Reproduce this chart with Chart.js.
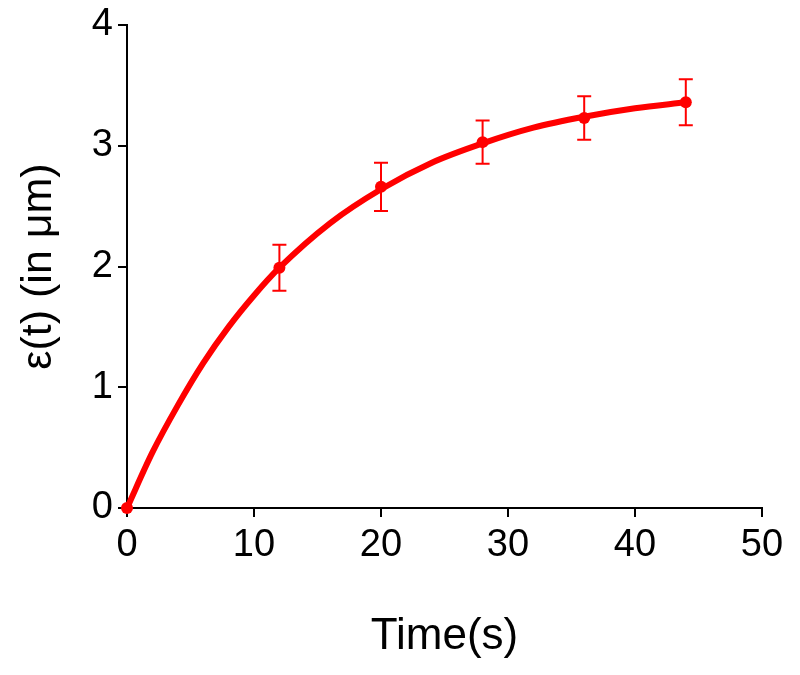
<!DOCTYPE html>
<html lang="en">
<head>
    <meta charset="UTF-8">
    <title>Strain vs time</title>
    <script src="https://cdn.jsdelivr.net/npm/chart.js"></script>
    <style>
        html, body { margin: 0; padding: 0; background: #fff; }
        #wrap { width: 800px; height: 675px; }
    </style>
</head>
<body>
    <div id="wrap"><canvas id="strainChart" width="800" height="675"></canvas></div>

    <script>
        // measured points (mean +/- error)
        const timeS = [0, 12, 20, 28, 36, 44];
        const strainMean = [0, 1.99, 2.66, 3.03, 3.23, 3.36];
        const strainErr = [0, 0.19, 0.20, 0.18, 0.18, 0.19];

        // fitted curve
        const fitTime = [0, 2, 4, 6, 8, 10, 12, 16, 20, 24, 28, 32, 36, 40, 44];
        const fitStrain = [0, 0.46, 0.85, 1.20, 1.50, 1.76, 1.99, 2.36, 2.64, 2.86, 3.02, 3.15, 3.24, 3.31, 3.36];

        const xTicks = [0, 10, 20, 30, 40, 50];
        const yTicks = [0, 1, 2, 3, 4];

        const RED = 'rgb(255, 0, 0)';
        const FONT = "'Liberation Sans', Arial, Helvetica, sans-serif";

        // draws vertical error bars with caps using the chart scales
        const errorBars = {
            id: 'errorBars',
            afterDatasetsDraw(chart) {
                const ctx = chart.ctx;
                const xs = chart.scales.x, ys = chart.scales.y;
                ctx.save();
                ctx.strokeStyle = RED;
                ctx.lineWidth = 2;
                timeS.forEach((t, i) => {
                    if (!strainErr[i]) return;
                    const px = xs.getPixelForValue(t);
                    const top = ys.getPixelForValue(strainMean[i] + strainErr[i]);
                    const bot = ys.getPixelForValue(strainMean[i] - strainErr[i]);
                    ctx.beginPath();
                    ctx.moveTo(px, top); ctx.lineTo(px, bot);
                    ctx.moveTo(px - 7, top); ctx.lineTo(px + 7, top);
                    ctx.moveTo(px - 7, bot); ctx.lineTo(px + 7, bot);
                    ctx.stroke();
                });
                ctx.restore();
            }
        };

        const ctx = document.getElementById('strainChart').getContext('2d');
        new Chart(ctx, {
            type: 'line',
            data: {
                datasets: [
                    {
                        label: 'fit',
                        data: fitTime.map((t, i) => ({ x: t, y: fitStrain[i] })),
                        borderColor: RED,
                        borderWidth: 6,
                        pointRadius: 0,
                        cubicInterpolationMode: 'monotone',
                        fill: false,
                        clip: false
                    },
                    {
                        label: 'data',
                        data: timeS.map((t, i) => ({ x: t, y: strainMean[i] })),
                        showLine: false,
                        pointRadius: 6,
                        pointBackgroundColor: RED,
                        pointBorderColor: RED,
                        pointBorderWidth: 0,
                        clip: false
                    }
                ]
            },
            options: {
                responsive: false,
                animation: false,
                layout: { padding: { top: 25, right: 38, left: 0, bottom: 0 } },
                plugins: {
                    legend: { display: false },
                    tooltip: { enabled: false }
                },
                scales: {
                    x: {
                        type: 'linear',
                        min: 0, max: 50,
                        afterBuildTicks: s => { s.ticks = xTicks.map(v => ({ value: v })); },
                        afterFit: s => { s.height = 167; },
                        border: { color: '#000', width: 2 },
                        grid: { drawOnChartArea: false, drawTicks: true, tickLength: 9, color: '#000', lineWidth: 2 },
                        ticks: { color: '#000', padding: 6, font: { family: FONT, size: 38 } },
                        title: {
                            display: true,
                            text: 'Time(s)',
                            color: '#000',
                            font: { family: FONT, size: 44 },
                            padding: { top: 0, bottom: 12 }
                        }
                    },
                    y: {
                        min: 0, max: 4,
                        afterBuildTicks: s => { s.ticks = yTicks.map(v => ({ value: v })); },
                        afterFit: s => { s.width = 127; },
                        border: { color: '#000', width: 2 },
                        grid: { drawOnChartArea: false, drawTicks: true, tickLength: 9, color: '#000', lineWidth: 2 },
                        ticks: { color: '#000', padding: 5, font: { family: FONT, size: 38, lineHeight: 1.0 } },
                        title: {
                            display: true,
                            text: 'ε(t) (in μm)',
                            color: '#000',
                            font: { family: FONT, size: 43 },
                            padding: { top: 13, bottom: 0 }
                        }
                    }
                }
            },
            plugins: [errorBars]
        });
    </script>
</body>
</html>
